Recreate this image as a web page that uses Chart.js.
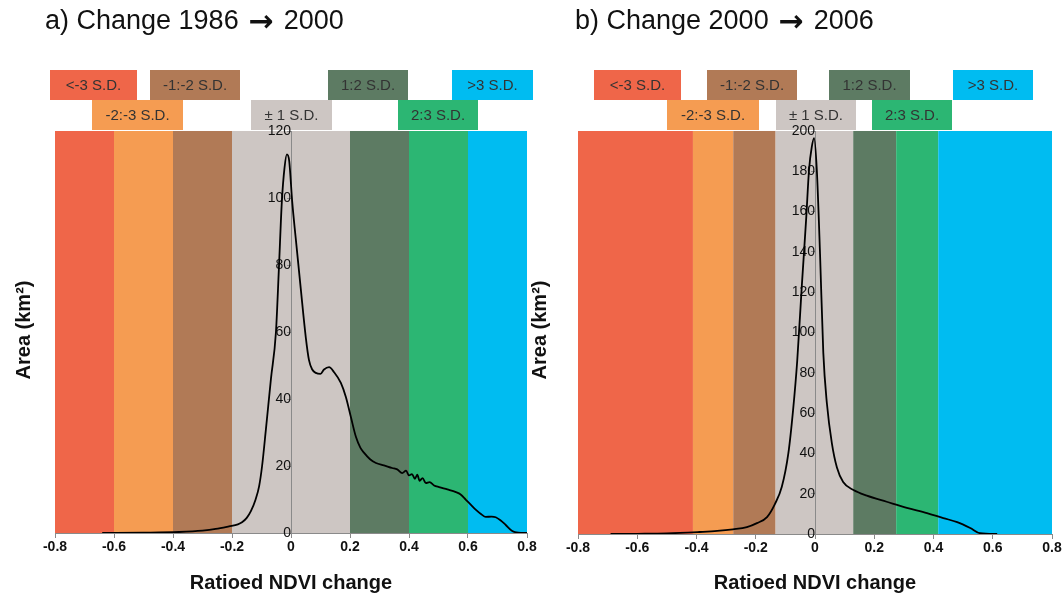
<!DOCTYPE html>
<html>
<head>
<meta charset="utf-8">
<title>Ratioed NDVI change</title>
<script src="https://cdn.jsdelivr.net/npm/chart.js@4/dist/chart.umd.min.js"></script>
<style>
    html, body { margin: 0; padding: 0; background: #fff; overflow: hidden; }
    #wrap { position: relative; width: 1062px; height: 599px; }
    #chartA { position: absolute; left: 0; top: 0; }
    #chartB { position: absolute; left: 530px; top: 0; }
</style>
</head>
<body>
<div id="wrap">
    <canvas id="chartA" width="540" height="599"></canvas>
    <canvas id="chartB" width="542" height="599"></canvas>
</div>
<script>
// 类别（标准差区间）与颜色
const sdLabels = ['<-3 S.D.', '-2:-3 S.D.', '-1:-2 S.D.', '± 1 S.D.', '1:2 S.D.', '2:3 S.D.', '>3 S.D.'];
const sdColors = ['#ef6649', '#f59c52', '#b17a56', '#cdc6c3', '#5d7b63', '#2cb673', '#00bcf1'];

// 区间边界（NDVI比值变化）
const bandEdgesA = [-0.8, -0.6, -0.4, -0.2, 0.2, 0.4, 0.6, 0.8];
const bandEdgesB = [-0.8, -0.412, -0.276, -0.133, 0.129, 0.274, 0.416, 0.8];

// a) 1986 -> 2000 面积曲线
const ndviA = [-0.64, -0.5, -0.38, -0.3, -0.255, -0.21, -0.18, -0.166, -0.15, -0.136, -0.12, -0.108, -0.098, -0.085,
    -0.068, -0.051, -0.041, -0.031, -0.022, -0.014, -0.006, 0.004, 0.016, 0.033, 0.05, 0.061, 0.072, 0.084, 0.1,
    0.112, 0.129, 0.146, 0.169, 0.186, 0.203, 0.22, 0.235, 0.248, 0.268, 0.288, 0.315, 0.343, 0.36, 0.377, 0.39,
    0.4, 0.41, 0.42, 0.428, 0.436, 0.446, 0.457, 0.47, 0.485, 0.502, 0.53, 0.559, 0.575, 0.593, 0.61, 0.627,
    0.645, 0.66, 0.68, 0.694, 0.71, 0.728, 0.75, 0.77, 0.8];
const areaA = [0, 0.1, 0.3, 0.7, 1.2, 2, 2.6, 3.2, 4.5, 6.5, 10, 14, 20, 31,
    46, 60, 79, 99, 109, 113, 111, 99, 88, 73, 58.5, 51.6, 48.8, 47.8, 47.5,
    48.8, 49.5, 48, 44.8, 40.6, 34.6, 28.7, 25.5, 23.9, 22, 20.9, 20.2, 19.4, 19, 17.9, 18.6,
    17.2, 17.6, 16.2, 17.4, 15.6, 16.4, 14.9, 15.2, 14.2, 13.7, 13, 12.2, 11.5, 9.9, 8.4, 6.9,
    5.6, 4.8, 4.9, 4.7, 3.8, 2.4, 0.6, 0.1, 0];

// b) 2000 -> 2006 面积曲线
const ndviB = [-0.69, -0.6, -0.5, -0.39, -0.33, -0.277, -0.23, -0.196, -0.162, -0.135, -0.112, -0.09, -0.074,
    -0.06, -0.045, -0.03, -0.02, -0.011, -0.003, 0.006, 0.017, 0.028, 0.04, 0.057, 0.074, 0.095, 0.13,
    0.175, 0.242, 0.31, 0.378, 0.433, 0.48, 0.524, 0.557, 0.615];
const areaB = [0, 0.1, 0.3, 1, 1.5, 2.3, 3.4, 5.4, 8.4, 15, 23.4, 40, 61.5,
    86, 122, 156, 181, 192, 196.5, 181, 139, 90, 65, 45, 33, 25.8, 21.8,
    19, 16, 13, 10.4, 7.9, 5.9, 3, 0.4, 0];

// 标题（箭头前后两段）
const titleA = ['a) Change 1986', '2000'];
const titleB = ['b) Change 2000', '2006'];

// 字体
const FONT = '"Liberation Sans", Arial, sans-serif';

// 图例方块布局（像素：左、右、行）
const legendLayoutA = [[50, 137, 0], [92, 183, 1], [150, 240, 0], [251, 332, 1], [328, 408, 0], [398, 478, 1], [452, 533, 0]];
const legendLayoutB = [[64, 151, 0], [137, 229, 1], [177, 267, 0], [246, 326, 1], [299, 380, 0], [342, 422, 1], [423, 503, 0]];

/**
 * 背景色带、图例、标题
 */
const panelDecor = {
    id: 'panelDecor',
    beforeDraw(chart, args, opts) {
        const { ctx, chartArea, scales } = chart;
        const xs = scales.x;
        ctx.save();

        // 色带
        for (let i = 0; i < opts.edges.length - 1; i++) {
            const x0 = xs.getPixelForValue(opts.edges[i]);
            const x1 = xs.getPixelForValue(opts.edges[i + 1]);
            ctx.fillStyle = sdColors[i];
            ctx.fillRect(x0, chartArea.top, x1 - x0, chartArea.bottom - chartArea.top);
        }

        // 图例方块
        ctx.font = '15px ' + FONT;
        ctx.textAlign = 'center';
        ctx.textBaseline = 'middle';
        opts.legend.forEach((b, i) => {
            const top = 70 + b[2] * 30;
            ctx.fillStyle = sdColors[i];
            ctx.fillRect(b[0], top, b[1] - b[0], 30);
            ctx.fillStyle = '#333';
            ctx.fillText(sdLabels[i], (b[0] + b[1]) / 2, top + 16);
        });

        // 标题：文字 + 粗箭头 + 文字
        ctx.fillStyle = '#111';
        ctx.textAlign = 'left';
        ctx.textBaseline = 'alphabetic';
        ctx.font = '27px ' + FONT;
        let tx = 45;
        ctx.fillText(opts.title[0], tx, 29);
        tx += ctx.measureText(opts.title[0] + ' ').width + 2;
        ctx.font = 'bold 30px "DejaVu Sans", sans-serif';
        ctx.fillText('→', tx, 31);
        tx += ctx.measureText('→').width;
        ctx.font = '27px ' + FONT;
        ctx.fillText(' ' + opts.title[1], tx + 3, 29);

        // y轴标题
        ctx.font = 'bold 20px ' + FONT;
        ctx.textAlign = 'center';
        ctx.textBaseline = 'middle';
        ctx.translate(opts.yTitleX, 330);
        ctx.rotate(-Math.PI / 2);
        ctx.fillText('Area (km²)', 0, 0);
        ctx.restore();
    }
};

/**
 * 创建单个面板
 */
function createPanel(canvasId, xs, ys, yMax, edges, legend, title, yTitleX, pad) {
    const points = xs.map((v, i) => ({ x: v, y: ys[i] }));
    return new Chart(document.getElementById(canvasId), {
        type: 'line',
        data: {
            datasets: [{
                data: points,
                borderColor: '#000',
                borderWidth: 1.8,
                pointRadius: 0,
                cubicInterpolationMode: 'monotone',
                fill: false
            }]
        },
        options: {
            responsive: false,
            animation: false,
            layout: { padding: pad },
            plugins: {
                legend: { display: false },
                tooltip: { enabled: false },
                panelDecor: { edges: edges, legend: legend, title: title, yTitleX: yTitleX }
            },
            scales: {
                x: {
                    type: 'linear',
                    min: -0.8,
                    max: 0.8,
                    afterFit: function(scale) { scale.height = pad.axisH; },
                    border: { color: '#8a8a8a', width: 1 },
                    grid: { drawOnChartArea: false, tickLength: 5, color: '#8a8a8a' },
                    ticks: {
                        stepSize: 0.2,
                        padding: 1,
                        color: '#111',
                        font: { family: FONT, size: 14, weight: 'bold' },
                        callback: function(v) { return Math.abs(v) < 1e-9 ? '0' : String(+v.toFixed(1)); }
                    },
                    title: {
                        display: true,
                        text: 'Ratioed NDVI change',
                        color: '#111',
                        font: { family: FONT, size: 20, weight: 'bold' },
                        padding: { top: 0, bottom: 4 }
                    }
                },
                y: {
                    position: { x: 0 },
                    min: 0,
                    max: yMax,
                    border: { color: '#8a8a8a', width: 1 },
                    grid: { drawOnChartArea: false, tickLength: 4, color: '#8a8a8a' },
                    ticks: {
                        stepSize: 20,
                        color: '#111',
                        font: { family: FONT, size: 14 }
                    }
                }
            }
        },
        plugins: [panelDecor]
    });
}

createPanel('chartA', ndviA, areaA, 120, bandEdgesA, legendLayoutA, titleA, 24,
    { left: 55, right: 13, top: 131, bottom: 0, axisH: 66 });
createPanel('chartB', ndviB, areaB, 200, bandEdgesB, legendLayoutB, titleB, 10,
    { left: 48, right: 20, top: 131, bottom: 0, axisH: 65 });
</script>
</body>
</html>
